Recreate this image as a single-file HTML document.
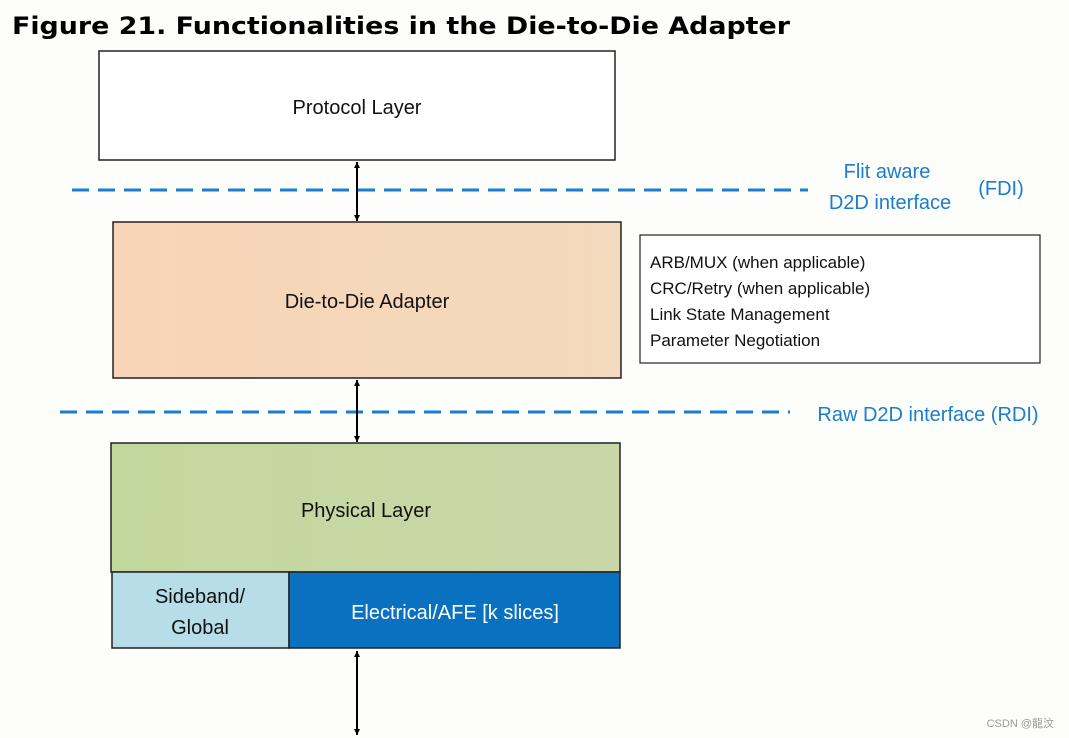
<!DOCTYPE html>
<html><head><meta charset="utf-8"><style>
html,body{margin:0;padding:0;background:#fff;}
svg{display:block;}
</style></head><body>
<svg width="1069" height="738" viewBox="0 0 1069 738" xmlns="http://www.w3.org/2000/svg">
<defs>
<linearGradient id="pe" x1="0" x2="1"><stop offset="0" stop-color="#f8d5b6"/><stop offset="1" stop-color="#f3d9bd"/></linearGradient>
<linearGradient id="gr" x1="0" x2="1"><stop offset="0" stop-color="#c3d89d"/><stop offset="1" stop-color="#c8d6a8"/></linearGradient>
<marker id="ah" viewBox="0 0 10 10" refX="10" refY="5" markerWidth="6" markerHeight="7" markerUnits="userSpaceOnUse" orient="auto-start-reverse"><path d="M0,0 L10,5 L0,10 z" fill="#000"/></marker>
</defs>
<rect width="1069" height="738" fill="#fdfefb"/>
<text x="12" y="34" font-family="DejaVu Sans, Liberation Sans, sans-serif" font-weight="bold" font-size="24" textLength="778" lengthAdjust="spacingAndGlyphs" fill="#000">Figure 21.  Functionalities in the Die-to-Die Adapter</text>

<g font-family="Liberation Sans, sans-serif" font-size="20" fill="#111">
<rect x="99" y="51" width="516" height="109" fill="#fff" stroke="#222" stroke-width="1.5"/>
<text x="357" y="114" text-anchor="middle">Protocol Layer</text>

<line x1="72" y1="190" x2="808" y2="190" stroke="#1b7dcb" stroke-width="3" stroke-dasharray="17,9"/>
<g fill="#1b7dcb" font-size="20">
<text x="887" y="178" text-anchor="middle">Flit aware</text>
<text x="890" y="209" text-anchor="middle">D2D interface</text>
<text x="1001" y="195" text-anchor="middle">(FDI)</text>
<text x="928" y="421" text-anchor="middle">Raw D2D interface (RDI)</text>
</g>

<rect x="113" y="222" width="508" height="156" fill="url(#pe)" stroke="#222" stroke-width="1.5"/>
<text x="367" y="308" text-anchor="middle">Die-to-Die Adapter</text>

<rect x="640" y="235" width="400" height="128" fill="#fff" stroke="#222" stroke-width="1.2"/>
<g font-size="17">
<text x="650" y="268">ARB/MUX (when applicable)</text>
<text x="650" y="294">CRC/Retry (when applicable)</text>
<text x="650" y="320">Link State Management</text>
<text x="650" y="346">Parameter Negotiation</text>
</g>

<line x1="60" y1="412" x2="790" y2="412" stroke="#1b7dcb" stroke-width="3" stroke-dasharray="17,9"/>

<rect x="111" y="443" width="509" height="129" fill="url(#gr)" stroke="#222" stroke-width="1.5"/>
<text x="366" y="517" text-anchor="middle">Physical Layer</text>
<rect x="112" y="572" width="177" height="76" fill="#b6dde8" stroke="#222" stroke-width="1.5"/>
<text x="200" y="603" text-anchor="middle">Sideband/</text>
<text x="200" y="634" text-anchor="middle">Global</text>
<rect x="289" y="572" width="331" height="76" fill="#0a70c0" stroke="#222" stroke-width="1.5"/>
<text x="455" y="619" text-anchor="middle" fill="#fff">Electrical/AFE [k slices]</text>
</g>

<g stroke="#000" stroke-width="2">
<line x1="357" y1="162" x2="357" y2="221" marker-start="url(#ah)" marker-end="url(#ah)"/>
<line x1="357" y1="380" x2="357" y2="442" marker-start="url(#ah)" marker-end="url(#ah)"/>
<line x1="357" y1="651" x2="357" y2="735" marker-start="url(#ah)" marker-end="url(#ah)"/>
</g>
<text x="1054" y="727" text-anchor="end" font-family="Liberation Sans, Noto Sans CJK SC, sans-serif" font-size="11" fill="#999">CSDN @龍汶</text>
</svg>
</body></html>
